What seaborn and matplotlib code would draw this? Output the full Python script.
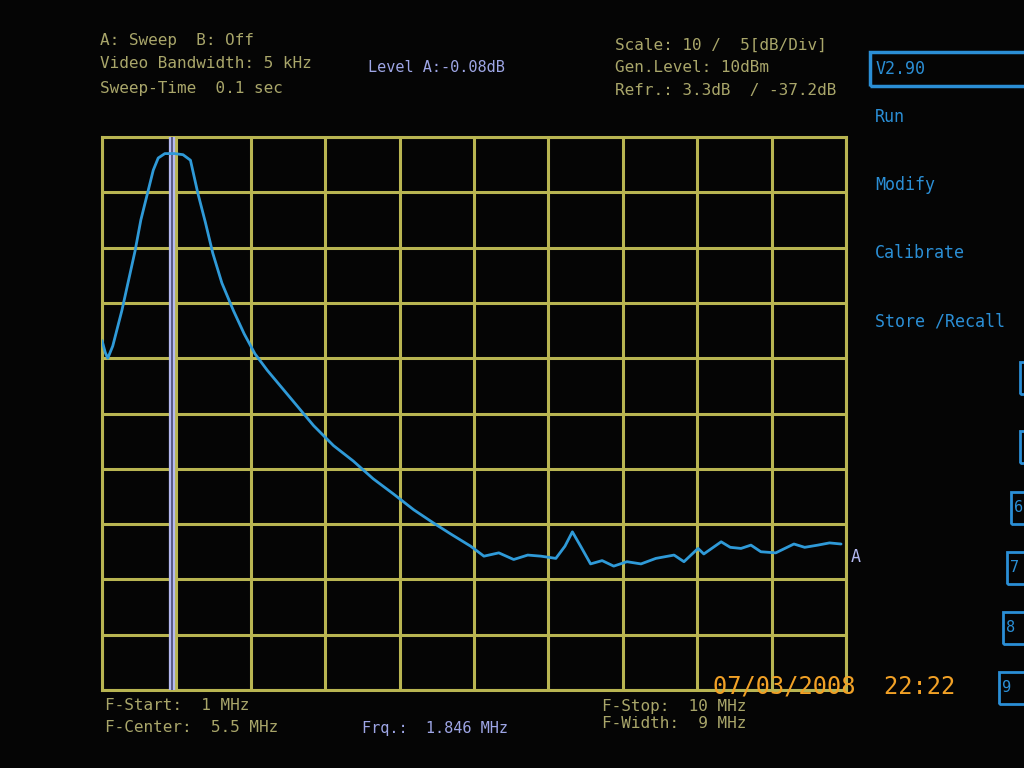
import numpy as np
import pandas as pd
import matplotlib.pyplot as plt
import seaborn as sns
from matplotlib.patches import Rectangle

# sweep settings
f_start = 1.0
f_stop = 10.0
marker_frq = 1.846
ref_level = 3.3
db_per_div = 5
n_div = 10

# trace A
freq_mhz = [1.00, 1.04, 1.07, 1.13, 1.24, 1.32, 1.40, 1.47, 1.56, 1.62,
            1.68, 1.76, 1.88, 1.98, 2.07, 2.16, 2.25, 2.34, 2.45, 2.59,
            2.72, 2.85, 3.00, 3.28, 3.56, 3.80, 4.04, 4.28, 4.53, 4.77,
            5.01, 5.22, 5.46, 5.62, 5.80, 5.98, 6.15, 6.31, 6.49, 6.60,
            6.69, 6.79, 6.91, 7.05, 7.19, 7.35, 7.52, 7.70, 7.92, 8.04,
            8.21, 8.28, 8.49, 8.60, 8.73, 8.85, 8.97, 9.15, 9.37, 9.50,
            9.66, 9.80, 9.94]
level_db = [-15.1, -16.2, -16.7, -15.6, -12.4, -9.7, -7.0, -4.2, -1.5, 0.3,
            1.4, 1.8, 1.8, 1.7, 1.2, -1.8, -4.4, -7.2, -9.9, -12.4,
            -14.5, -16.3, -17.8, -20.3, -22.8, -24.6, -26.0, -27.6, -29.0, -30.4,
            -31.6, -32.6, -33.7, -34.6, -34.3, -34.9, -34.5, -34.6, -34.8, -33.7,
            -32.4, -33.7, -35.3, -35.0, -35.5, -35.1, -35.3, -34.8, -34.5, -35.1,
            -33.9, -34.4, -33.3, -33.8, -33.9, -33.6, -34.2, -34.3, -33.5, -33.8,
            -33.6, -33.4, -33.5]

header_left = ["A: Sweep  B: Off", "Video Bandwidth: 5 kHz", "Sweep-Time  0.1 sec"]
header_right = ["Scale: 10 /  5[dB/Div]", "Gen.Level: 10dBm", "Refr.: 3.3dB  / -37.2dB"]
menu_items = ["Run", "Modify", "Calibrate", "Store /Recall"]
soft_keys = ["6", "7", "8", "9"]

grid_col = "#b9b552"
text_col = "#a9a66a"
trace_col = "#2f9ad8"
menu_col = "#2b8fd6"
marker_col = "#b4b8f0"

sns.set_theme(style="dark")
plt.rcParams['font.family'] = ['DejaVu Sans Mono', 'DejaVu Sans']

df = pd.DataFrame({"Frequency (MHz)": freq_mhz, "Level (dB)": level_db})

fig = plt.figure(figsize=(10.24, 7.68), dpi=100, facecolor="#050505")
W, H = 1024, 768
ax = fig.add_axes([102 / W, 1 - 690 / H, (846 - 102) / W, (690 - 137) / H])
ax.set_facecolor("#050505")

bottom = ref_level - db_per_div * n_div
ax.set_xlim(f_start, f_stop)
ax.set_ylim(bottom, ref_level)
ax.set_xticks(np.linspace(f_start, f_stop, n_div + 1))
ax.set_yticks(np.linspace(bottom, ref_level, n_div + 1))
ax.grid(True, color=grid_col, lw=2.2)
ax.tick_params(length=0, labelbottom=False, labelleft=False)
for s in ax.spines.values():
    s.set_visible(True)
    s.set_color(grid_col)
    s.set_linewidth(2.2)

# marker line (double line)
ax.axvline(marker_frq, color=marker_col, lw=4.5, zorder=3)
ax.axvline(marker_frq, color="#4a4a70", lw=1.2, zorder=3)

sns.lineplot(data=df, x="Frequency (MHz)", y="Level (dB)", ax=ax,
             color=trace_col, lw=2.0, zorder=4)
ax.set_xlabel("")
ax.set_ylabel("")
ax.text(1.006, level_db[-1] - 1.2, "A", transform=ax.get_yaxis_transform(),
        color=marker_col, fontsize=12, va="center", ha="left")


def put(x, y, s, color=text_col, size=11.5, **kw):
    fig.text(x / W, 1 - y / H, s, color=color, fontsize=size, va="center", ha="left", **kw)


for i, s in enumerate(header_left):
    put(100, 40 + i * 24, s)
for i, s in enumerate(header_right):
    put(615, 45 + i * 23, s)
put(368, 68, "Level A:-0.08dB", color="#9ea6e6", size=11)

put(105, 706, "F-Start:  1 MHz")
put(105, 727, "F-Center:  5.5 MHz")
put(602, 706, "F-Stop:  10 MHz")
put(602, 724, "F-Width:  9 MHz")
put(362, 728, "Frq.:  1.846 MHz", color="#9ea6e6", size=11)

# menu
fig.patches.append(Rectangle((870 / W, 1 - 86 / H), 160 / W, 34 / H, transform=fig.transFigure,
                             fill=False, ec=menu_col, lw=2.5))
put(876, 69, "V2.90", color=menu_col, size=12)
for i, s in enumerate(menu_items):
    put(875, 117 + i * 68, s, color=menu_col, size=12)

# soft keys at the right edge, partly off screen
for y0 in (378, 447):
    fig.patches.append(Rectangle((1020 / W, 1 - (y0 + 16) / H), 30 / W, 32 / H,
                                 transform=fig.transFigure, fill=False, ec=menu_col, lw=2))
for i, s in enumerate(soft_keys):
    x0 = 1011 - i * 4
    y0 = 508 + i * 60
    fig.patches.append(Rectangle((x0 / W, 1 - (y0 + 16) / H), 30 / W, 32 / H,
                                 transform=fig.transFigure, fill=False, ec=menu_col, lw=2))
    put(x0 + 3, y0, s, color=menu_col, size=11)

# camera date stamp
put(713, 686, "07/03/2008  22:22", color="#f2a126", size=17)

fig.savefig("out.png", dpi=100, facecolor=fig.get_facecolor())
